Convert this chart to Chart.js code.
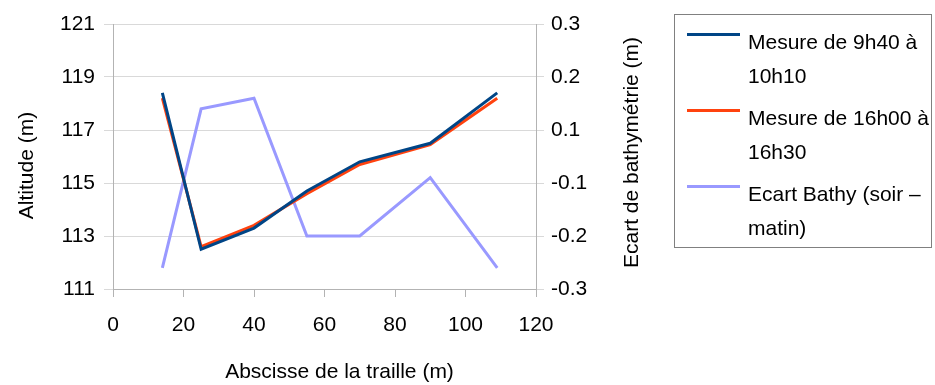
<!DOCTYPE html>
<html>
<head>
<meta charset="utf-8">
<script src="https://cdn.jsdelivr.net/npm/chart.js@4/dist/chart.umd.min.js"></script>
<style>
  body { margin: 0; background: #fff; }
  #wrap { position: relative; width: 935px; height: 385px; }
  #legend {
    position: absolute; left: 674px; top: 14px; width: 258px; height: 234px;
    border: 1px solid #808080; box-sizing: border-box;
    font-family: "Liberation Sans Narrow", "Liberation Sans", Arial, sans-serif;
    font-size: 21px; color: #000;
  }
  .item { position: absolute; left: 12px; }
  .item .swatch { position: absolute; left: 0; top: 18px; width: 53px; height: 3px; }
  .item .txt { position: absolute; left: 61px; top: 10px; width: 190px; line-height: 34px; white-space: nowrap; }
</style>
</head>
<body>
<div id="wrap">
  <canvas id="myChart" width="935" height="385"></canvas>
  <div id="legend"></div>
</div>
<script>
// data
var xPos = [14, 25, 40, 55, 70, 90, 109];
var mesureMatin = [118.4, 112.5, 113.3, 114.7, 115.8, 116.5, 118.4];
var mesureSoir = [118.2, 112.6, 113.4, 114.6, 115.7, 116.45, 118.2];
var ecartBathy = [-0.21, 0.09, 0.11, -0.15, -0.15, -0.04, -0.21];

var seriesNames = ['Mesure de 9h40 à|10h10', 'Mesure de 16h00 à|16h30', 'Ecart Bathy (soir –|matin)'];
var seriesColors = ['#004586', '#ff420e', '#9999ff'];

var xTicks = [0, 20, 40, 60, 80, 100, 120];
var leftTicks = [111, 113, 115, 117, 119, 121];
// the right axis really runs -0.25..0.25, labels are rounded to one decimal
var rightTicks = [-0.25, -0.15, -0.05, 0.05, 0.15, 0.25];
var rightTickLabels = ['-0.3', '-0.2', '-0.1', '0.1', '0.2', '0.3'];

var xTitle = 'Abscisse de la traille (m)';
var leftTitle = 'Altitude (m)';
var rightTitle = 'Ecart de bathymétrie (m)';

var FONT = '"Liberation Sans Narrow", "Liberation Sans", Arial, sans-serif';

function points(ys) {
    return xPos.map(function (x, i) { return { x: x, y: ys[i] }; });
}

function fixTicks(list) {
    return function (axis) {
        axis.ticks = list.map(function (v) { return { value: v }; });
    };
}

// axis titles, both vertical ones read bottom to top
var axisTitles = {
    id: 'axisTitles',
    afterDraw: function (chart) {
        var ctx = chart.ctx, area = chart.chartArea;
        var midY = (area.top + area.bottom) / 2;
        ctx.save();
        ctx.font = '21px ' + FONT;
        ctx.fillStyle = '#000';
        ctx.textAlign = 'center';
        ctx.textBaseline = 'middle';
        ctx.fillText(xTitle, (area.left + area.right) / 2 + 15, 372);

        ctx.save();
        ctx.translate(27, midY + 9);
        ctx.rotate(-Math.PI / 2);
        ctx.fillText(leftTitle, 0, 0);
        ctx.restore();

        ctx.translate(632, midY - 4);
        ctx.rotate(-Math.PI / 2);
        ctx.fillText(rightTitle, 0, 0);
        ctx.restore();
    }
};

function createLegend() {
    var box = document.getElementById('legend');
    seriesNames.forEach(function (name, i) {
        var item = document.createElement('div');
        item.className = 'item';
        item.style.top = (i * 76) + 'px';
        var sw = document.createElement('div');
        sw.className = 'swatch';
        sw.style.background = seriesColors[i];
        var t = document.createElement('div');
        t.className = 'txt';
        t.innerHTML = name.split('|').join('<br>');
        item.appendChild(sw);
        item.appendChild(t);
        box.appendChild(item);
    });
}

function createChart() {
    Chart.defaults.font.family = FONT;
    Chart.defaults.font.size = 21;
    Chart.defaults.color = '#000';

    var ctx = document.getElementById('myChart').getContext('2d');
    new Chart(ctx, {
        type: 'line',
        data: {
            datasets: [
                { label: seriesNames[0], data: points(mesureMatin), yAxisID: 'y' },
                { label: seriesNames[1], data: points(mesureSoir), yAxisID: 'y' },
                { label: seriesNames[2], data: points(ecartBathy), yAxisID: 'y2' }
            ].map(function (d, i) {
                d.borderColor = seriesColors[i];
                d.backgroundColor = seriesColors[i];
                d.borderWidth = 3;
                d.pointRadius = 0;
                d.tension = 0;
                d.fill = false;
                return d;
            })
        },
        options: {
            responsive: false,
            animation: false,
            layout: { padding: { left: 0, top: 24, right: 329, bottom: 36 } },
            plugins: {
                legend: { display: false },
                tooltip: { enabled: false }
            },
            scales: {
                x: {
                    type: 'linear', min: 0, max: 120,
                    afterBuildTicks: fixTicks(xTicks),
                    afterFit: function (s) { s.height = 60; },
                    grid: { drawOnChartArea: false, color: '#b3b3b3', tickLength: 8 },
                    border: { color: '#b3b3b3' },
                    ticks: { padding: 16, maxRotation: 0 }
                },
                y: {
                    position: 'left', min: 111, max: 121,
                    afterBuildTicks: fixTicks(leftTicks),
                    afterFit: function (s) { s.width = 113; },
                    grid: { color: '#d9d9d9', tickLength: 9 },
                    border: { color: '#b3b3b3' },
                    ticks: { padding: 9 }
                },
                y2: {
                    position: 'right', min: -0.25, max: 0.25,
                    afterBuildTicks: fixTicks(rightTicks),
                    afterFit: function (s) { s.width = 70; },
                    grid: { drawOnChartArea: false, color: '#d9d9d9', tickLength: 8 },
                    border: { color: '#b3b3b3' },
                    ticks: {
                        padding: 7,
                        callback: function (v, i) { return rightTickLabels[i]; }
                    }
                }
            }
        },
        plugins: [axisTitles]
    });
}

document.addEventListener('DOMContentLoaded', function () {
    createChart();
    createLegend();
});
</script>
</body>
</html>
